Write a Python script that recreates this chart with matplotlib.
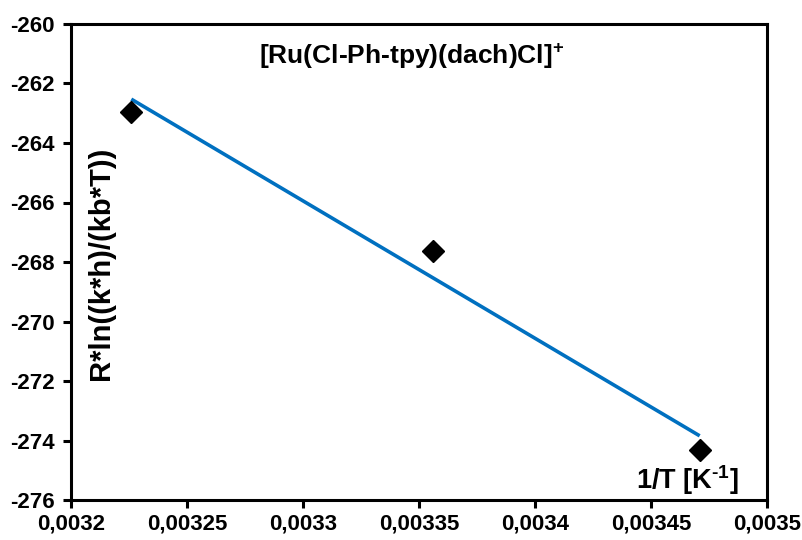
import numpy as np
import matplotlib
matplotlib.use("Agg")
import matplotlib.pyplot as plt
from matplotlib.ticker import FuncFormatter

# data
inv_T = [0.003226, 0.003356, 0.003471]
r_ln = [-262.95, -267.63, -274.32]

x_ticks = [0.0032, 0.00325, 0.0033, 0.00335, 0.0034, 0.00345, 0.0035]
y_ticks = [-276, -274, -272, -270, -268, -266, -264, -262, -260]

plt.rcParams['font.family'] = ['Liberation Sans', 'DejaVu Sans']
plt.rcParams['font.weight'] = 'bold'
plt.rcParams['mathtext.fontset'] = 'custom'
plt.rcParams['mathtext.bf'] = 'Liberation Sans:bold'
plt.rcParams['mathtext.rm'] = 'Liberation Sans:bold'
plt.rcParams['mathtext.default'] = 'bf'

fig = plt.figure(figsize=(8.03, 5.40), dpi=100)
ax = fig.add_axes([0.0884, 0.074, 0.8667, 0.8816])

# linear trend line over the data range
k, b = np.polyfit(inv_T, r_ln, 1)
xs = np.array([min(inv_T), max(inv_T)])
ax.plot(xs, k * xs + b, color='#0070C0', lw=2.6, solid_capstyle='butt')
ax.plot(inv_T, r_ln, 'D', color='black', ms=11, ls='none')

ax.set_xlim(0.0032, 0.0035)
ax.set_ylim(-276, -260)
ax.set_xticks(x_ticks)
ax.set_yticks(y_ticks)
fmt = FuncFormatter(lambda v, p: '{:g}'.format(round(v, 6)).replace('.', ','))
ax.xaxis.set_major_formatter(fmt)
ax.yaxis.set_major_formatter(fmt)

for s in ax.spines.values():
    s.set_linewidth(2.2)
ax.tick_params(axis='both', direction='out', length=6, width=2.2, labelsize=16)
ax.tick_params(axis='x', pad=4)
ax.tick_params(axis='y', pad=6)

ax.text(0.49, 0.933, r'[Ru(Cl-Ph-tpy)(dach)Cl]$^{+}$', transform=ax.transAxes,
        ha='center', va='center', fontsize=19, fontweight='bold')
ax.text(0.043, 0.498, 'R*ln((k*h)/(kb*T))', transform=ax.transAxes, rotation=90,
        ha='center', va='center', fontsize=21, fontweight='bold')
ax.text(0.885, 0.042, r'1/T [K$^{\text{-}1}$]', transform=ax.transAxes,
        ha='center', va='center', fontsize=19.5, fontweight='bold')

fig.savefig('out.png', dpi=100)
